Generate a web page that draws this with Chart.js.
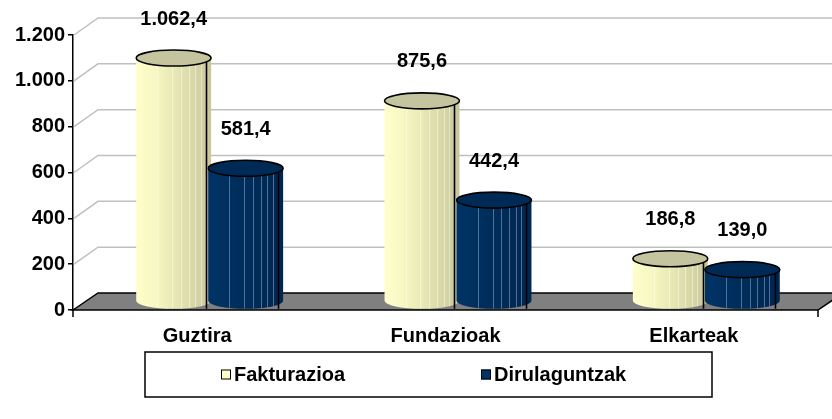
<!DOCTYPE html>
<html>
<head>
<meta charset="utf-8">
<script src="https://cdn.jsdelivr.net/npm/chart.js@4/dist/chart.umd.min.js"></script>
<style>
  html, body { margin: 0; padding: 0; background: #ffffff; }
  #c { display: block; }
</style>
</head>
<body>
<canvas id="c" width="832" height="419"></canvas>
<script>
// Categories, series and axis ticks
const categories = ['Guztira', 'Fundazioak', 'Elkarteak'];
const seriesNames = ['Fakturazioa', 'Dirulaguntzak'];
const fakturazioa = [1062.4, 875.6, 186.8];
const dirulaguntzak = [581.4, 442.4, 139.0];
const yTicks = [0, 200, 400, 600, 800, 1000, 1200];

const FONT = "'Liberation Sans', Arial, Helvetica, sans-serif";
const FONT_SIZE = 20;
const DEPTH_X = 25;   // horizontal shift of the back wall
const DEPTH_Y = 17;   // vertical shift of the back wall

// Basque number style: "." for thousands, "," for decimals
function fmt(v, d) {
  const parts = v.toFixed(d).split('.');
  const i = parts[0].replace(/\B(?=(\d{3})+(?!\d))/g, '.');
  return parts[1] ? i + ',' + parts[1] : i;
}

const looks = [
  { face: ['#FFFFCC', '#F7F7C4', '#E9E9B6', '#D9D9A8', '#C6C698'], top: '#C4C49E', stripe: 'rgba(255,255,255,0.45)' },
  { face: ['#003366', '#00305F', '#002D5A', '#002A55', '#002650'], top: '#002A56', stripe: 'rgba(140,170,210,0.55)' }
];

function drawCylinder(ctx, cx, top, bottom, rx, ry, look) {
  const l = cx - rx, r = cx + rx;
  const g = ctx.createLinearGradient(l, 0, r, 0);
  look.face.forEach((c, i) => g.addColorStop(i / (look.face.length - 1), c));
  ctx.save();
  ctx.beginPath();
  ctx.moveTo(l, top);
  ctx.lineTo(l, bottom);
  ctx.ellipse(cx, bottom, rx, ry, 0, Math.PI, 0, true);
  ctx.lineTo(r, top);
  ctx.ellipse(cx, top, rx, ry, 0, 0, Math.PI, false);
  ctx.closePath();
  ctx.fillStyle = g;
  ctx.fill();
  // thin vertical highlights on the body
  ctx.save();
  ctx.clip();
  ctx.strokeStyle = look.stripe;
  ctx.lineWidth = 1;
  [0.28, 0.48, 0.6, 0.7, 0.79, 0.86, 0.93].forEach(f => {
    const x = Math.round(l + f * 2 * rx) + 0.5;
    ctx.beginPath();
    ctx.moveTo(x, top);
    ctx.lineTo(x, bottom + ry);
    ctx.stroke();
  });
  ctx.restore();
  ctx.lineWidth = 1.6;
  ctx.strokeStyle = '#000';
  ctx.lineJoin = 'round';
  ctx.stroke();
  // lid
  ctx.beginPath();
  ctx.ellipse(cx, top, rx, ry, 0, 0, Math.PI * 2);
  ctx.fillStyle = look.top;
  ctx.fill();
  ctx.stroke();
  ctx.restore();
}

const cylinderPlugin = {
  id: 'cylinders',
  beforeDatasetsDraw(chart) {
    const ctx = chart.ctx;
    const y = chart.scales.y;
    const area = chart.chartArea;
    const x0 = area.left;
    const yBase = y.getPixelForValue(0);

    // side wall and back wall grid lines
    ctx.save();
    ctx.strokeStyle = '#C0C0C0';
    ctx.lineWidth = 1.5;
    yTicks.forEach(v => {
      if (v === 0) return;
      const py = y.getPixelForValue(v);
      ctx.beginPath();
      ctx.moveTo(x0 + 1, py);
      ctx.lineTo(x0 + DEPTH_X, py - DEPTH_Y);
      ctx.lineTo(chart.width, py - DEPTH_Y);
      ctx.stroke();
    });

    // floor
    ctx.beginPath();
    ctx.moveTo(x0, yBase);
    ctx.lineTo(x0 + DEPTH_X, yBase - DEPTH_Y);
    ctx.lineTo(area.right + DEPTH_X, yBase - DEPTH_Y);
    ctx.lineTo(area.right, yBase);
    ctx.closePath();
    ctx.fillStyle = '#808080';
    ctx.fill();
    ctx.strokeStyle = '#000';
    ctx.lineWidth = 1.5;
    ctx.stroke();
    // category axis end ticks
    ctx.beginPath();
    ctx.moveTo(x0, yBase);
    ctx.lineTo(x0, yBase + 7);
    ctx.moveTo(area.right, yBase);
    ctx.lineTo(area.right, yBase + 7);
    ctx.stroke();
    ctx.restore();

    // cylinders, one category at a time
    categories.forEach((_, i) => {
      chart.data.datasets.forEach((ds, d) => {
        const el = chart.getDatasetMeta(d).data[i];
        const rx = el.width / 2;
        drawCylinder(ctx, el.x + DEPTH_X / 2, el.y - DEPTH_Y / 2, el.base - DEPTH_Y / 2, rx, 8, looks[d]);
      });
    });
    return false;
  },
  afterDraw(chart) {
    const ctx = chart.ctx;
    ctx.save();
    // value labels
    ctx.font = 'bold ' + FONT_SIZE + 'px ' + FONT;
    ctx.fillStyle = '#000';
    ctx.textAlign = 'center';
    ctx.textBaseline = 'middle';
    chart.data.datasets.forEach((ds, d) => {
      chart.getDatasetMeta(d).data.forEach((el, i) => {
        const top = el.y - DEPTH_Y / 2 - 8;
        ctx.fillText(fmt(ds.data[i], 1), el.x + DEPTH_X / 2, top - 31);
      });
    });

    // legend
    const box = { left: 145, top: 352, right: 712, bottom: 397 };
    ctx.strokeStyle = '#000';
    ctx.lineWidth = 1.5;
    ctx.strokeRect(box.left, box.top, box.right - box.left, box.bottom - box.top);
    const midY = (box.top + box.bottom) / 2;
    const itemX = [221, 481];
    ctx.textAlign = 'left';
    chart.data.datasets.forEach((ds, d) => {
      ctx.fillStyle = ds.backgroundColor;
      ctx.fillRect(itemX[d], midY - 5, 10, 10);
      ctx.lineWidth = 1;
      ctx.strokeRect(itemX[d] + 0.5, midY - 4.5, 9, 9);
      ctx.fillStyle = '#000';
      ctx.fillText(ds.label, itemX[d] + 13, midY + 1);
    });
    ctx.restore();
  }
};

new Chart(document.getElementById('c'), {
  type: 'bar',
  data: {
    labels: categories,
    datasets: [
      { label: seriesNames[0], data: fakturazioa, backgroundColor: '#FFFFCC' },
      { label: seriesNames[1], data: dirulaguntzak, backgroundColor: '#003366' }
    ]
  },
  options: {
    responsive: false,
    animation: false,
    layout: { padding: { top: 35, right: 14, left: 0, bottom: 0 } },
    datasets: { bar: { categoryPercentage: 0.58, barPercentage: 1.04 } },
    plugins: { legend: { display: false }, tooltip: { enabled: false } },
    scales: {
      x: {
        grid: { display: false },
        border: { display: false },
        ticks: { color: '#000', padding: 6, font: { family: FONT, size: FONT_SIZE, weight: 'bold' } },
        afterFit(s) { s.height = 109; }
      },
      y: {
        min: 0,
        max: 1200,
        afterBuildTicks(s) { s.ticks = yTicks.map(v => ({ value: v })); },
        grid: { drawOnChartArea: false, drawTicks: true, tickLength: 5, color: '#000', lineWidth: 1.5 },
        border: { display: true, color: '#000', width: 1.5 },
        ticks: { color: '#000', padding: 3, font: { family: FONT, size: FONT_SIZE, weight: 'bold' }, callback: v => fmt(v, 0) },
        afterFit(s) { s.width = 73; }
      }
    }
  },
  plugins: [cylinderPlugin]
});
</script>
</body>
</html>
